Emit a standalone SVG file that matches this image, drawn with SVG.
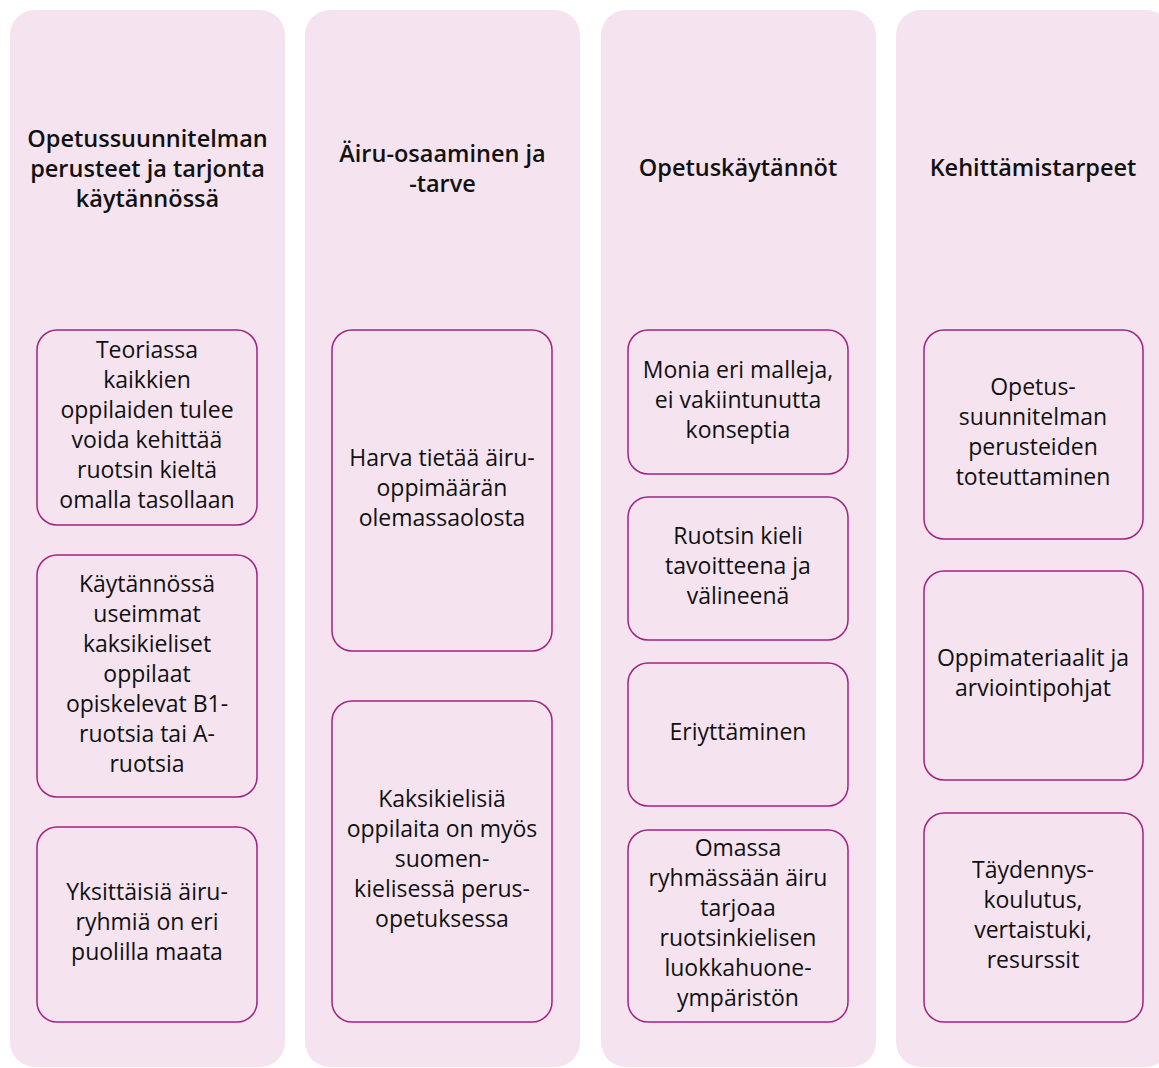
<svg xmlns="http://www.w3.org/2000/svg" width="1159" height="1068" viewBox="0 0 1159 1068">
<style>
.col{fill:#f5e4ef;}
.box{fill:#f5e4ef;stroke:#a3237f;stroke-width:1.5;}
.t{font-family:"Open Sans","Liberation Sans",sans-serif;font-size:23px;fill:#111;text-anchor:middle;}
.h{font-family:"Open Sans","Liberation Sans",sans-serif;font-size:23.5px;font-weight:600;fill:#111;text-anchor:middle;}
</style>
<rect width="1159" height="1068" fill="#ffffff"/>
<g id="col1">
<rect class="col" x="10" y="10" width="275" height="1057" rx="25"/>
<text class="h"><tspan x="147.5" y="147">Opetussuunnitelman</tspan><tspan x="147.5" y="177">perusteet ja tarjonta</tspan><tspan x="147.5" y="207">käytännössä</tspan></text>
</g>
<g id="col2">
<rect class="col" x="305" y="10" width="275" height="1057" rx="25"/>
<text class="h"><tspan x="442.5" y="162">Äiru-osaaminen ja</tspan><tspan x="442.5" y="192">-tarve</tspan></text>
</g>
<g id="col3">
<rect class="col" x="601" y="10" width="275" height="1057" rx="25"/>
<text class="h"><tspan x="738" y="176">Opetuskäytännöt</tspan></text>
</g>
<g id="col4">
<rect class="col" x="896" y="10" width="275" height="1057" rx="25"/>
<text class="h"><tspan x="1033" y="176">Kehittämistarpeet</tspan></text>
</g>
<g id="n1a">
<rect class="box" x="37" y="330" width="220" height="195" rx="20"/>
<text class="t"><tspan x="147" y="358">Teoriassa</tspan><tspan x="147" y="388">kaikkien</tspan><tspan x="147" y="418">oppilaiden tulee</tspan><tspan x="147" y="448">voida kehittää</tspan><tspan x="147" y="478">ruotsin kieltä</tspan><tspan x="147" y="508">omalla tasollaan</tspan></text>
</g>
<g id="n1b">
<rect class="box" x="37" y="555" width="220" height="242" rx="20"/>
<text class="t"><tspan x="147" y="592">Käytännössä</tspan><tspan x="147" y="622">useimmat</tspan><tspan x="147" y="652">kaksikieliset</tspan><tspan x="147" y="682">oppilaat</tspan><tspan x="147" y="712">opiskelevat B1-</tspan><tspan x="147" y="742">ruotsia tai A-</tspan><tspan x="147" y="772">ruotsia</tspan></text>
</g>
<g id="n1c">
<rect class="box" x="37" y="827" width="220" height="195" rx="20"/>
<text class="t"><tspan x="147" y="900">Yksittäisiä äiru-</tspan><tspan x="147" y="930">ryhmiä on eri</tspan><tspan x="147" y="960">puolilla maata</tspan></text>
</g>
<g id="n2a">
<rect class="box" x="332" y="330" width="220" height="321" rx="20"/>
<text class="t"><tspan x="442" y="466">Harva tietää äiru-</tspan><tspan x="442" y="496">oppimäärän</tspan><tspan x="442" y="526">olemassaolosta</tspan></text>
</g>
<g id="n2b">
<rect class="box" x="332" y="701" width="220" height="321" rx="20"/>
<text class="t"><tspan x="442" y="807">Kaksikielisiä</tspan><tspan x="442" y="837">oppilaita on myös</tspan><tspan x="442" y="867">suomen-</tspan><tspan x="442" y="897">kielisessä perus-</tspan><tspan x="442" y="927">opetuksessa</tspan></text>
</g>
<g id="n3a">
<rect class="box" x="628" y="330" width="220" height="144" rx="20"/>
<text class="t"><tspan x="738" y="378">Monia eri malleja,</tspan><tspan x="738" y="408">ei vakiintunutta</tspan><tspan x="738" y="438">konseptia</tspan></text>
</g>
<g id="n3b">
<rect class="box" x="628" y="497" width="220" height="143" rx="20"/>
<text class="t"><tspan x="738" y="544">Ruotsin kieli</tspan><tspan x="738" y="574">tavoitteena ja</tspan><tspan x="738" y="604">välineenä</tspan></text>
</g>
<g id="n3c">
<rect class="box" x="628" y="663" width="220" height="143" rx="20"/>
<text class="t"><tspan x="738" y="740">Eriyttäminen</tspan></text>
</g>
<g id="n3d">
<rect class="box" x="628" y="830" width="220" height="192" rx="20"/>
<text class="t"><tspan x="738" y="856">Omassa</tspan><tspan x="738" y="886">ryhmässään äiru</tspan><tspan x="738" y="916">tarjoaa</tspan><tspan x="738" y="946">ruotsinkielisen</tspan><tspan x="738" y="976">luokkahuone-</tspan><tspan x="738" y="1006">ympäristön</tspan></text>
</g>
<g id="n4a">
<rect class="box" x="924" y="330" width="219" height="209" rx="20"/>
<text class="t"><tspan x="1033" y="395">Opetus-</tspan><tspan x="1033" y="425">suunnitelman</tspan><tspan x="1033" y="455">perusteiden</tspan><tspan x="1033" y="485">toteuttaminen</tspan></text>
</g>
<g id="n4b">
<rect class="box" x="924" y="571" width="219" height="209" rx="20"/>
<text class="t"><tspan x="1033" y="666">Oppimateriaalit ja</tspan><tspan x="1033" y="696">arviointipohjat</tspan></text>
</g>
<g id="n4c">
<rect class="box" x="924" y="813" width="219" height="209" rx="20"/>
<text class="t"><tspan x="1033" y="878">Täydennys-</tspan><tspan x="1033" y="908">koulutus,</tspan><tspan x="1033" y="938">vertaistuki,</tspan><tspan x="1033" y="968">resurssit</tspan></text>
</g>
<g id="connectors"></g>
</svg>
